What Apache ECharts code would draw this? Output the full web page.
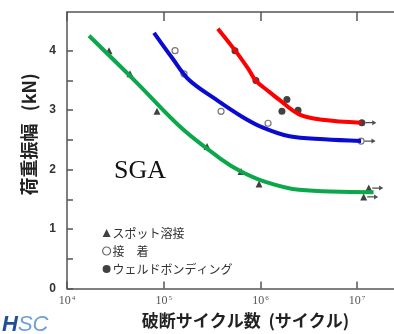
<!DOCTYPE html>
<html>
<head>
<meta charset="utf-8">
<script src="https://cdn.jsdelivr.net/npm/echarts@6/dist/echarts.min.js"></script>
<style>
  html, body { margin: 0; padding: 0; background: #fff; }
  #chart { width: 394px; height: 334px; }
</style>
</head>
<body>
<div id="chart"></div>
<script>
// S-N data: load amplitude (kN) vs cycles to failure
const xTicks = [1e4, 1e5, 1e6, 1e7];
const yTicks = [0, 1, 2, 3, 4];
const yMinorTicks = [0, 0.5, 1, 1.5, 2, 2.5, 3, 3.5, 4];

// fitted curves [cycles, kN]
const spotCurve = [[16900, 4.25], [51300, 3.48], [155000, 2.69], [398000, 2.17], [631000, 1.97], [1150000, 1.79], [2510000, 1.66], [14800000, 1.62]];
const bondCurve = [[79400, 4.30], [122000, 3.88], [182000, 3.51], [347000, 3.18], [646000, 2.89], [1050000, 2.71], [2000000, 2.56], [4570000, 2.51], [11000000, 2.48]];
const weldBondCurve = [[363000, 4.37], [550000, 4.00], [759000, 3.68], [891000, 3.50], [1230000, 3.31], [1550000, 3.18], [2510000, 2.93], [4370000, 2.84], [11000000, 2.79]];

// test results
const spotPoints = [[27200, 4.0], [44800, 3.61], [85300, 2.98], [281000, 2.39], [631000, 1.97], [968000, 1.76], [13200000, 1.69], [11700000, 1.54]];
const bondPoints = [[131000, 4.0], [162000, 3.61], [392000, 2.98], [1200000, 2.78], [11000000, 2.48]];
const weldBondPoints = [[546000, 4.0], [899000, 3.50], [1880000, 3.18], [1670000, 2.98], [2450000, 3.0], [11200000, 2.79]];
// unbroken specimens (run-out)
const runOuts = [[13200000, 1.69], [11700000, 1.54], [11000000, 2.48], [11200000, 2.79]];

const names = ['スポット溶接', '接\u3000着', 'ウェルドボンディング'];

const chart = echarts.init(document.getElementById('chart'), null, { renderer: 'canvas' });
const axisColor = '#555';

const option = {
  animation: false,
  backgroundColor: '#fff',
  grid: { left: 67, right: 0, top: 12, bottom: 44 },
  legend: {
    data: [
      { name: names[0], icon: 'triangle', itemStyle: { color: '#111' } },
      { name: names[1], icon: 'circle', itemStyle: { color: '#fff', borderColor: '#444', borderWidth: 1.2 } },
      { name: names[2], icon: 'circle', itemStyle: { color: '#111' } }
    ],
    orient: 'vertical',
    left: 97,
    top: 222,
    itemWidth: 8,
    itemHeight: 8,
    itemGap: 6,
    textStyle: { fontSize: 12, color: '#333', fontFamily: 'Noto Sans CJK JP', padding: [0, 0, 0, -3] }
  },
  xAxis: [{
    type: 'log',
    logBase: 10,
    min: 1e4,
    max: Math.pow(10, 4 + 327 / 96.7),
    position: 'bottom',
    name: '破断サイクル数  (サイクル)',
    nameLocation: 'middle',
    nameGap: 23,
    nameTextStyle: { fontSize: 17, fontWeight: 'bold', color: '#222', fontFamily: 'Noto Sans CJK JP', padding: [0, 0, 0, 30] },
    axisLine: { show: true, lineStyle: { color: axisColor, width: 1.5 } },
    axisTick: { show: true, inside: true, length: 7, customValues: xTicks, lineStyle: { color: axisColor, width: 1.5 } },
    splitLine: { show: false },
    minorTick: { show: false },
    axisLabel: {
      customValues: xTicks,
      margin: 6,
      formatter: v => '10{s|' + Math.round(Math.log10(v)) + '}',
      color: '#555',
      fontSize: 12,
      fontFamily: 'Liberation Serif',
      rich: { s: { fontSize: 7, verticalAlign: 'top', padding: [0, 0, 6, 1], color: '#555', fontFamily: 'Liberation Serif' } }
    }
  }, {
    type: 'log',
    logBase: 10,
    min: 1e4,
    max: Math.pow(10, 4 + 327 / 96.7),
    position: 'top',
    axisLine: { show: true, lineStyle: { color: axisColor, width: 1.5 } },
    axisTick: { show: true, inside: true, length: 9, customValues: xTicks, lineStyle: { color: axisColor, width: 1.5 } },
    axisLabel: { show: false },
    splitLine: { show: false }
  }],
  yAxis: {
    type: 'value',
    min: 0,
    max: 4.65,
    name: '荷重振幅   (kN)',
    nameLocation: 'middle',
    nameRotate: 90,
    nameGap: 25,
    nameTextStyle: { fontSize: 18, fontWeight: 'bold', color: '#222', fontFamily: 'Noto Sans CJK JP', padding: [0, 0, 0, 32] },
    axisLine: { show: true, lineStyle: { color: axisColor, width: 1.5 } },
    axisTick: { show: true, inside: true, length: 6, customValues: yMinorTicks, lineStyle: { color: axisColor, width: 1.5 } },
    splitLine: { show: false },
    axisLabel: {
      customValues: yTicks,
      margin: 11,
      color: '#333',
      fontSize: 12,
      fontWeight: 'bold',
      fontFamily: 'Liberation Sans'
    }
  },
  graphic: [
    {
      type: 'text', left: 114, top: 158,
      style: { text: 'SGA', fontSize: 26, fontFamily: 'Liberation Serif', fill: '#111' }
    },
    {
      type: 'text', left: 2, top: 314,
      style: {
        text: '{h|H}{s|SC}',
        rich: {
          h: { fontSize: 22, fontStyle: 'italic', fontWeight: 'bold', fill: '#1f4f9c', fontFamily: 'Liberation Sans' },
          s: { fontSize: 22, fontStyle: 'italic', fill: '#6f9fd8', fontFamily: 'Liberation Sans' }
        }
      }
    }
  ],
  series: [
    {
      name: names[0], type: 'scatter', data: spotPoints,
      symbol: 'triangle', symbolSize: 7, itemStyle: { color: '#111' }, z: 3
    },
    {
      name: names[1], type: 'scatter', data: bondPoints,
      symbol: 'circle', symbolSize: 6, itemStyle: { color: '#fff', borderColor: '#555', borderWidth: 1.2 }, z: 3
    },
    {
      name: names[2], type: 'scatter', data: weldBondPoints,
      symbol: 'circle', symbolSize: 7, itemStyle: { color: '#111' }, z: 3
    },
    {
      name: 'run-out', type: 'scatter', data: runOuts,
      symbol: 'path://M0,4 L10,4 L10,1 L16,5 L10,9 L10,6 L0,6 Z',
      symbolSize: [11, 5], symbolOffset: [9, 0], itemStyle: { color: '#222' }, z: 3
    },
    {
      type: 'line', data: spotCurve, smooth: 0.35, showSymbol: false,
      lineStyle: { color: '#0aa84a', width: 4 }, z: 5
    },
    {
      type: 'line', data: bondCurve, smooth: 0.35, showSymbol: false,
      lineStyle: { color: '#0a0ad0', width: 4 }, z: 5
    },
    {
      type: 'line', data: weldBondCurve, smooth: 0.35, showSymbol: false,
      lineStyle: { color: '#ff0000', width: 4 }, z: 5
    }
  ]
};

chart.setOption(option);
</script>
</body>
</html>
